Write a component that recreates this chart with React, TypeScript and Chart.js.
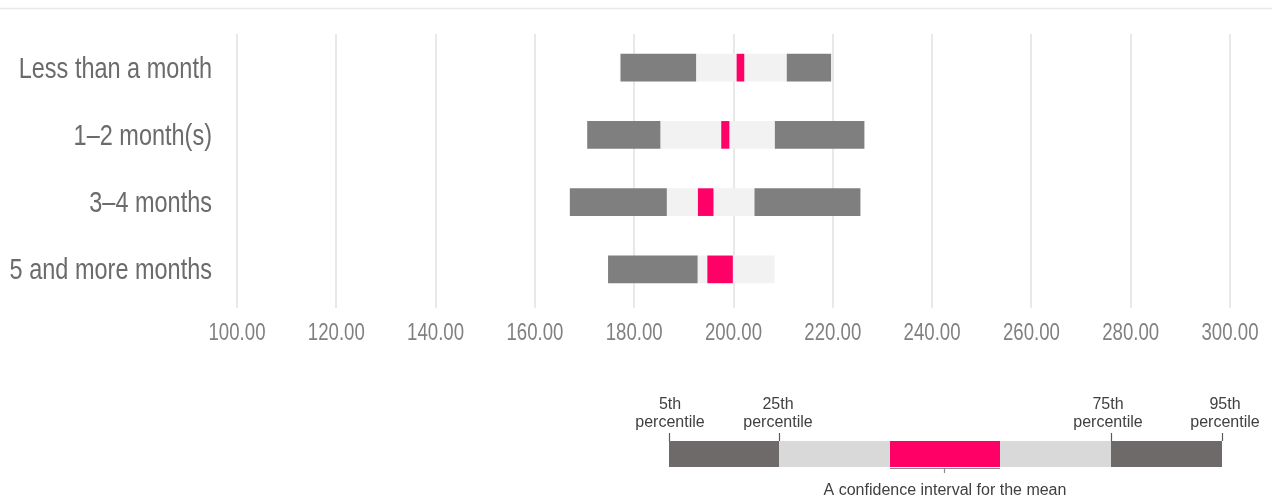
import React, { useEffect, useRef } from "react";
import { Chart, registerables } from "chart.js";

Chart.register(...registerables);

// Spending by length of stay: percentile bands and a confidence interval for the mean
const categories = ["Less than a month", "1–2 month(s)", "3–4 months", "5 and more months"];
const p5 = [177.3, 170.6, 167.1, 174.8];
const p25 = [192.4, 185.2, 186.5, 192.7];
const p75 = [210.8, 208.4, 204.3, 208.2];
const p95 = [219.6, 226.3, 225.5, 208.2];
const ciLow = [200.7, 197.6, 192.9, 194.8];
const ciHigh = [202.1, 199.1, 195.9, 199.8];

const xMin = 100;
const xMax = 300;
const xStep = 20;

// Key shown under the chart
const keyTopLabels = ["5th", "25th", "75th", "95th"];
const keySubLabel = "percentile";
const keyMeanLabel = "A confidence interval for the mean";

const SANS = "'Liberation Sans', Arial, sans-serif";
// Axis text is set in a condensed style
const SQUEEZE = 0.81;

const DARK = "#7f7f7f";
const LIGHT = "#f2f2f2";
const PINK = "#ff0066";

// Floating [from, to] spans; an empty span is left out
const span = (a: number[], b: number[]) =>
  a.map((v, i) => (b[i] > v ? ([v, b[i]] as [number, number]) : null));

const drawSqueezed = (
  ctx: CanvasRenderingContext2D,
  text: string,
  x: number,
  y: number,
  align: CanvasTextAlign
) => {
  ctx.save();
  ctx.translate(x, y);
  ctx.scale(SQUEEZE, 1);
  ctx.textAlign = align;
  ctx.fillText(text, 0, 0);
  ctx.restore();
};

// Axis labels drawn in the condensed style
const axisTextPlugin = {
  id: "condensedAxisText",
  afterDraw(chart: Chart) {
    const ctx = chart.ctx;
    const xs: any = chart.scales.x;
    const ys: any = chart.scales.y;
    ctx.save();
    ctx.textBaseline = "middle";

    ctx.fillStyle = "#6b6b6b";
    ctx.font = `29px ${SANS}`;
    categories.forEach((c, i) => {
      drawSqueezed(ctx, c, chart.chartArea.left - 25, ys.getPixelForValue(i) + 2, "right");
    });

    ctx.fillStyle = "#808080";
    ctx.font = `23px ${SANS}`;
    xs.ticks.forEach((t: any) => {
      drawSqueezed(ctx, Number(t.value).toFixed(2), xs.getPixelForValue(t.value), chart.chartArea.bottom + 31, "center");
    });
    ctx.restore();
  },
};

// Draws the thin rule along the top and the percentile key below the plot
const keyPlugin = {
  id: "percentileKey",
  afterDraw(chart: Chart) {
    const ctx = chart.ctx;
    ctx.save();

    ctx.strokeStyle = "#e8e8e8";
    ctx.lineWidth = 1.5;
    ctx.beginPath();
    ctx.moveTo(0, 8.5);
    ctx.lineTo(chart.width, 8.5);
    ctx.stroke();

    const edges = [669, 779, 890, 1000, 1111, 1222];
    const fills = ["#6e6a6a", "#d9d9d9", PINK, "#d9d9d9", "#6e6a6a"];
    const top = 441;
    const h = 26;
    for (let i = 0; i < fills.length; i++) {
      ctx.fillStyle = fills[i];
      ctx.fillRect(edges[i], top, edges[i + 1] - edges[i], h);
    }

    ctx.strokeStyle = "#5a5a5a";
    ctx.lineWidth = 1.2;
    const marks = [669, 779, 1111, 1222];
    for (const x of marks) {
      ctx.beginPath();
      ctx.moveTo(x + 0.5, 433);
      ctx.lineTo(x + 0.5, top);
      ctx.stroke();
    }

    ctx.strokeStyle = "#8a8a8a";
    ctx.beginPath();
    ctx.moveTo(890, top + h + 1.5);
    ctx.lineTo(1000, top + h + 1.5);
    ctx.moveTo(944.5, top + h + 1.5);
    ctx.lineTo(944.5, top + h + 6);
    ctx.stroke();

    ctx.fillStyle = "#404040";
    ctx.font = `16px ${SANS}`;
    ctx.textAlign = "center";
    ctx.textBaseline = "middle";
    const labelX = [670, 778, 1108, 1225];
    keyTopLabels.forEach((t, i) => {
      ctx.fillText(t, labelX[i], 405);
      ctx.fillText(keySubLabel, labelX[i], 423);
    });
    ctx.fillText(keyMeanLabel, 945, 491);

    ctx.restore();
  },
};

export default function App() {
  const canvasRef = useRef<HTMLCanvasElement | null>(null);

  useEffect(() => {
    if (!canvasRef.current) return;
    const common = { barThickness: 27, borderWidth: 0, grouped: false };
    const chart = new Chart(canvasRef.current, {
      type: "bar",
      data: {
        labels: categories,
        datasets: [
          { label: "Confidence interval", data: span(ciLow, ciHigh), backgroundColor: PINK, ...common },
          { label: "5th–25th", data: span(p5, p25), backgroundColor: DARK, ...common },
          { label: "75th–95th", data: span(p75, p95), backgroundColor: DARK, ...common },
          { label: "25th–75th", data: span(p25, p75), backgroundColor: LIGHT, ...common },
        ] as any,
      },
      options: {
        indexAxis: "y",
        responsive: false,
        animation: false,
        layout: { padding: { top: 34, right: 42, bottom: 161, left: 0 } },
        plugins: { legend: { display: false }, tooltip: { enabled: false } },
        scales: {
          x: {
            type: "linear",
            min: xMin,
            max: xMax,
            ticks: { stepSize: xStep, autoSkip: false, maxRotation: 0, display: false },
            grid: { color: "#e8e8e8", lineWidth: 2, tickLength: 5 },
            border: { display: false },
            afterFit: (s: any) => {
              s.height = 40;
            },
          },
          y: {
            type: "category",
            ticks: { display: false },
            grid: { display: false },
            border: { display: false },
            afterFit: (s: any) => {
              s.width = 237;
            },
          },
        },
      } as any,
      plugins: [axisTextPlugin, keyPlugin],
    });
    return () => chart.destroy();
  }, []);

  return (
    <div style={{ position: "absolute", left: 0, top: 0, width: 1272, height: 504, background: "#fff" }}>
      <canvas ref={canvasRef} width={1272} height={504} />
    </div>
  );
}
